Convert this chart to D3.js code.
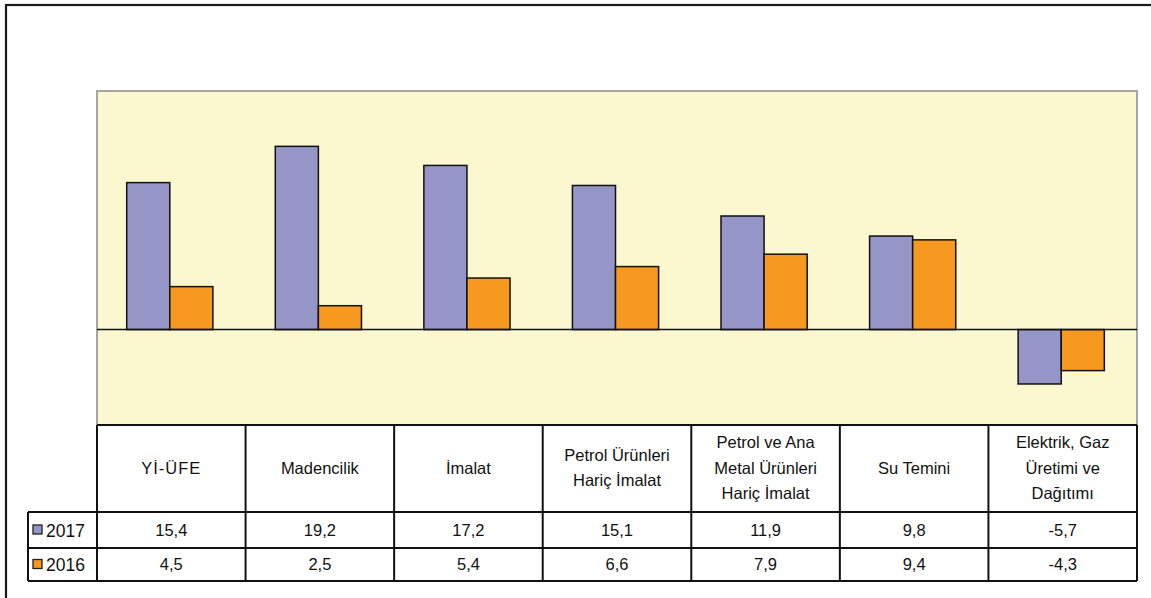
<!DOCTYPE html>
<html>
<head>
<meta charset="utf-8">
<script src="https://cdn.jsdelivr.net/npm/d3@7"></script>
<style>
  html, body { margin: 0; padding: 0; background: #fff; }
  svg { display: block; font-family: "Liberation Sans", Arial, sans-serif; }
</style>
</head>
<body>
<svg id="chart" width="1151" height="598"></svg>
<script>
// Category labels (each entry is a list of lines in the header cell)
const categories = [
  ["Yİ-ÜFE"],
  ["Madencilik"],
  ["İmalat"],
  ["Petrol Ürünleri", "Hariç İmalat"],
  ["Petrol ve Ana", "Metal Ürünleri", "Hariç İmalat"],
  ["Su Temini"],
  ["Elektrik, Gaz", "Üretimi ve", "Dağıtımı"]
];
const seriesNames = ["2017", "2016"];
const values2017 = [15.4, 19.2, 17.2, 15.1, 11.9, 9.8, -5.7];
const values2016 = [4.5, 2.5, 5.4, 6.6, 7.9, 9.4, -4.3];
const seriesColors = ["#9595c8", "#f7991f"];

const svg = d3.select("#chart");

const plot = { left: 97, right: 1137, top: 91, bottom: 425 };
const table = { legendLeft: 28, headerBottom: 512, row1Bottom: 548, row2Bottom: 581 };

// Outer frame
svg.append("rect")
  .attr("x", 6).attr("y", 5).attr("width", 1170).attr("height", 620)
  .attr("fill", "none").attr("stroke", "#1a1a1a").attr("stroke-width", 2.2);

// Plot background
svg.append("rect")
  .attr("x", plot.left).attr("y", plot.top)
  .attr("width", plot.right - plot.left).attr("height", plot.bottom - plot.top)
  .attr("fill", "#fbf8d0").attr("stroke", "#a5a5a5").attr("stroke-width", 2);

const keys = categories.map((c, i) => i);
const x0 = d3.scaleBand().domain(keys).range([plot.left, plot.right]).padding(0);
const w = x0.bandwidth();
const x1 = d3.scaleBand().domain(seriesNames).range([0.2 * w, 0.78 * w]).padding(0);
const y = d3.scaleLinear().domain([-10, 25]).range([plot.bottom, plot.top]);

const data = keys.map(i => ({ i, vals: [values2017[i], values2016[i]] }));

// Bars
const groups = svg.append("g").selectAll("g").data(data).join("g")
  .attr("transform", d => `translate(${x0(d.i)},0)`);
groups.selectAll("rect").data(d => d.vals.map((v, k) => ({ v, k })))
  .join("rect")
  .attr("x", d => x1(seriesNames[d.k]))
  .attr("width", x1.bandwidth())
  .attr("y", d => y(Math.max(0, d.v)))
  .attr("height", d => Math.abs(y(d.v) - y(0)))
  .attr("fill", d => seriesColors[d.k])
  .attr("stroke", "#111").attr("stroke-width", 1.5);

// Zero line
svg.append("line")
  .attr("x1", plot.left).attr("x2", plot.right)
  .attr("y1", y(0)).attr("y2", y(0))
  .attr("stroke", "#111").attr("stroke-width", 1.5);

// Data table
const tbl = svg.append("g");
tbl.append("rect")
  .attr("x", plot.left).attr("y", plot.bottom)
  .attr("width", plot.right - plot.left).attr("height", table.row2Bottom - plot.bottom)
  .attr("fill", "#fff");

const lineStyle = sel => sel.attr("stroke", "#111").attr("stroke-width", 2);
// horizontal rules
tbl.append("line").call(lineStyle).attr("x1", plot.left).attr("x2", plot.right)
  .attr("y1", plot.bottom).attr("y2", plot.bottom);
[table.headerBottom, table.row1Bottom, table.row2Bottom].forEach(yy => {
  tbl.append("line").call(lineStyle).attr("x1", table.legendLeft).attr("x2", plot.right)
    .attr("y1", yy).attr("y2", yy);
});
// vertical rules
tbl.append("line").call(lineStyle).attr("x1", table.legendLeft).attr("x2", table.legendLeft)
  .attr("y1", table.headerBottom).attr("y2", table.row2Bottom);
keys.concat([keys.length]).forEach(i => {
  const xx = i < keys.length ? x0(i) : plot.right;
  tbl.append("line").call(lineStyle).attr("x1", xx).attr("x2", xx)
    .attr("y1", plot.bottom).attr("y2", table.row2Bottom);
});

// Header labels
const headerMid = (plot.bottom + table.headerBottom) / 2;
const lineH = 25.5;
keys.forEach(i => {
  const lines = categories[i];
  const t = tbl.append("text")
    .attr("text-anchor", "middle")
    .attr("font-size", 16.5).attr("fill", "#111");
  lines.forEach((ln, j) => {
    t.append("tspan")
      .attr("x", x0(i) + w / 2)
      .attr("y", headerMid + (j - (lines.length - 1) / 2) * lineH + 5)
      .attr("letter-spacing", ln === "Yİ-ÜFE" ? 1 : 0)
      .text(ln);
  });
});

// Value rows
const rows = [
  { name: seriesNames[0], vals: values2017, top: table.headerBottom, bottom: table.row1Bottom, color: seriesColors[0] },
  { name: seriesNames[1], vals: values2016, top: table.row1Bottom, bottom: table.row2Bottom, color: seriesColors[1] }
];
const fmt = v => d3.format(".1f")(v).replace(".", ",").replace("\u2212", "-");
rows.forEach(r => {
  const mid = (r.top + r.bottom) / 2;
  tbl.append("rect")
    .attr("x", 33).attr("y", mid - 5).attr("width", 9).attr("height", 9)
    .attr("fill", r.color).attr("stroke", "#222").attr("stroke-width", 1.3);
  tbl.append("text")
    .attr("x", 46).attr("y", mid + 6.5)
    .attr("font-size", 17.5).attr("fill", "#111")
    .text(r.name);
  r.vals.forEach((v, i) => {
    tbl.append("text")
      .attr("x", x0(i) + w / 2).attr("y", mid + 5.5)
      .attr("text-anchor", "middle")
      .attr("font-size", 16.5).attr("fill", "#111")
      .text(fmt(v));
  });
});
</script>
</body>
</html>
